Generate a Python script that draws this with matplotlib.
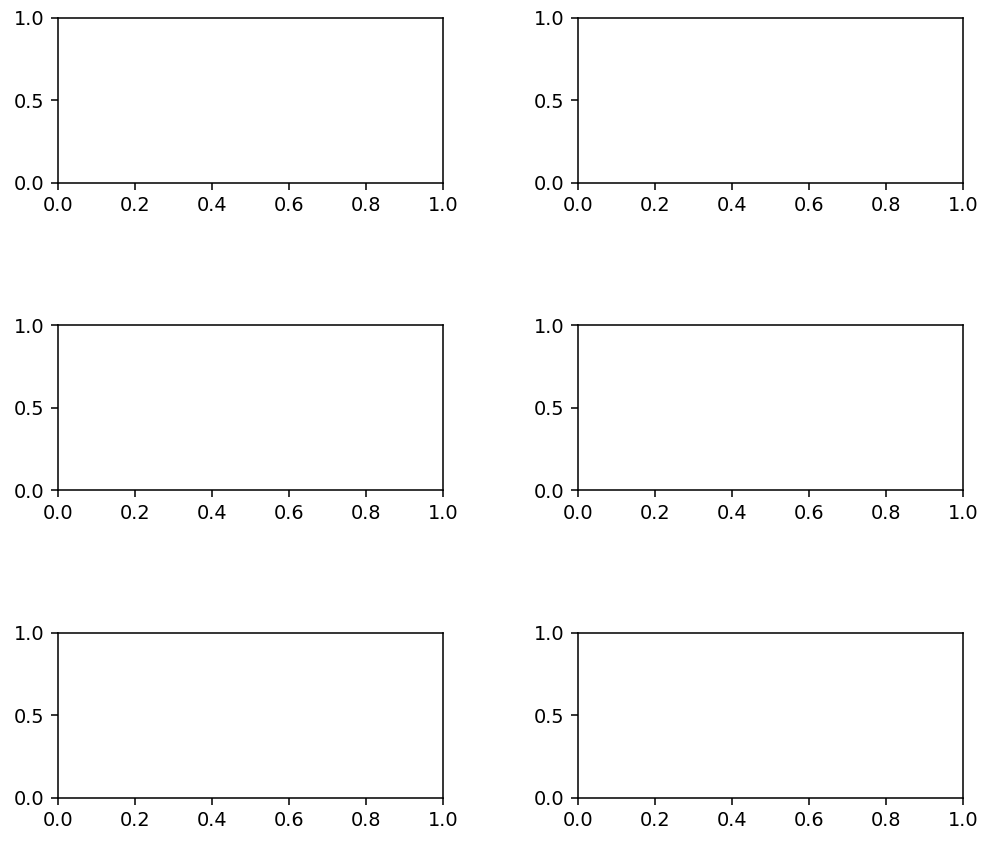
import matplotlib
matplotlib.use('Agg')
from matplotlib import pyplot as plt

# grid of empty panels
n_rows = 3
n_cols = 2

# tick labels shown on every panel
x_ticks = [0.0, 0.2, 0.4, 0.6, 0.8, 1.0]
y_ticks = [0.0, 0.5, 1.0]

# reference looks like a default figure drawn at a higher dpi
dpi = 1000 / 7.2
fig, axes = plt.subplots(n_rows, n_cols, figsize=(7.2, 854 / dpi), dpi=dpi)

for ax in axes.flat:
    ax.set_xticks(x_ticks)
    ax.set_yticks(y_ticks)

# place the panels to match the reference layout
fig.subplots_adjust(left=0.058, right=0.963, top=0.979, bottom=0.0656,
                    wspace=0.351, hspace=0.864)

fig.savefig('out.png', dpi=dpi)
